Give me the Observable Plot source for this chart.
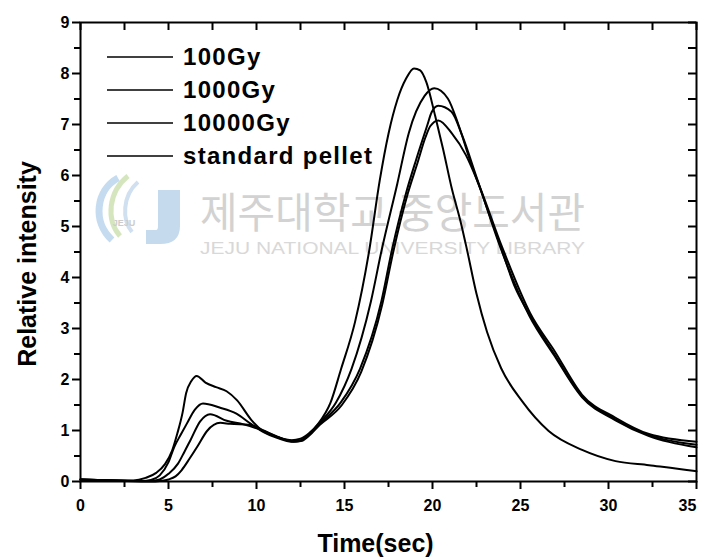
<!DOCTYPE html>
<html>
<head>
<meta charset="utf-8">
<script src="https://cdn.jsdelivr.net/npm/d3@7"></script>
<script src="https://cdn.jsdelivr.net/npm/@observablehq/plot@0.6"></script>
<style>
  body { margin: 0; background: #fff; }
  #wrap { position: relative; width: 702px; height: 558px; overflow: hidden; background: #fff; }
  #wrap > svg { position: absolute; left: 0; top: 0; }
</style>
</head>
<body>
<div id="wrap"></div>
<script>
// ---------- data ----------
const seriesNames = ["100Gy", "1000Gy", "10000Gy", "standard pellet"];

const t100 = [0, 2, 3.5, 4.0, 4.5, 5.0, 5.33, 5.7, 6.05, 6.5, 6.96, 7.9, 8.86, 9.64, 10.4, 11.2, 12.0, 12.5, 13.0, 13.5, 14.5, 15.4, 16.5, 17.1, 18.0, 18.65, 19.55, 20.1, 20.87, 21.48, 22.09, 22.7, 23.9, 24.7, 25.5, 26.9, 28.5, 30.4, 32.3, 35];
const v100 = [0.04, 0.02, 0.01, 0.03, 0.12, 0.38, 0.68, 0.92, 1.14, 1.41, 1.53, 1.45, 1.33, 1.14, 0.97, 0.85, 0.78, 0.8, 0.93, 1.12, 1.54, 2.21, 3.53, 4.52, 5.84, 6.83, 7.56, 7.71, 7.51, 6.99, 6.34, 5.75, 4.58, 3.8, 3.28, 2.51, 1.67, 1.22, 0.91, 0.72];

const t1000 = [0, 2, 4.0, 4.5, 5.0, 5.54, 5.9, 6.26, 6.8, 7.36, 8.31, 9.26, 10.4, 11.2, 12.0, 12.5, 13.0, 13.5, 14.79, 15.88, 17.1, 17.69, 18.55, 19.07, 19.69, 19.95, 20.32, 21.08, 21.68, 22.5, 23.9, 25.5, 26.9, 28.5, 30.4, 32.3, 35];
const v1000 = [0.04, 0.02, 0.01, 0.04, 0.15, 0.35, 0.58, 0.82, 1.18, 1.32, 1.19, 1.12, 0.99, 0.87, 0.8, 0.81, 0.92, 1.1, 1.55, 2.21, 3.54, 4.53, 5.72, 6.31, 6.97, 7.24, 7.37, 7.25, 6.79, 5.97, 4.55, 3.25, 2.48, 1.65, 1.2, 0.89, 0.67];

const t10000 = [0, 2, 4.0, 4.5, 5.0, 5.4, 5.74, 6.2, 6.65, 7.19, 7.94, 8.5, 9.64, 10.4, 11.2, 12.1, 12.6, 13.0, 13.5, 14.85, 15.95, 17.15, 17.75, 18.6, 19.15, 19.6, 19.88, 20.33, 21.11, 21.9, 22.6, 23.95, 25.55, 26.95, 28.5, 30.4, 32.3, 35];
const v10000 = [0.04, 0.02, 0.0, 0.01, 0.04, 0.1, 0.22, 0.45, 0.69, 0.99, 1.15, 1.13, 1.11, 1.0, 0.88, 0.78, 0.8, 0.9, 1.08, 1.5, 2.15, 3.48, 4.47, 5.65, 6.25, 6.75, 6.97, 7.08, 6.82, 6.4, 5.85, 4.6, 3.3, 2.55, 1.7, 1.25, 0.93, 0.78];

const tStd = [0, 1, 2, 3, 3.7, 4.3, 4.8, 5.2, 5.5, 5.8, 6.0, 6.3, 6.6, 7.1, 7.7, 8.3, 8.9, 9.7, 10.4, 11.2, 12.0, 12.5, 13.0, 13.5, 14.2, 14.8, 15.6, 16.4, 17.0, 17.5, 18.0, 18.5, 18.95, 19.3, 19.65, 20.15, 20.6, 21.1, 21.6, 21.95, 22.5, 23.1, 23.9, 25.1, 26.6, 28.5, 30.4, 32.3, 34.8, 35];
const vStd = [0.04, 0.03, 0.02, 0.02, 0.07, 0.17, 0.34, 0.6, 0.94, 1.35, 1.73, 1.97, 2.07, 1.94, 1.85, 1.77, 1.59, 1.21, 0.98, 0.87, 0.81, 0.84, 0.95, 1.13, 1.54, 2.2, 3.13, 4.52, 5.9, 6.82, 7.48, 7.9, 8.1, 8.06, 7.83, 7.17, 6.52, 5.74, 5.09, 4.56, 3.68, 2.93, 2.22, 1.57, 0.99, 0.62, 0.4, 0.32, 0.21, 0.2];

const xTickLabels = [0, 5, 10, 15, 20, 25, 30, 35];
const xMinorTicks = [2.5, 7.5, 12.5, 17.5, 22.5, 27.5, 32.5];
const yTickLabels = [0, 1, 2, 3, 4, 5, 6, 7, 8, 9];
const yMinorTicks = [0.5, 1.5, 2.5, 3.5, 4.5, 5.5, 6.5, 7.5, 8.5];
const xLabel = "Time(sec)";
const yLabel = "Relative intensity";
const watermarkKo = "제주대학교 중앙도서관";
const watermarkEn = "JEJU NATIONAL UNIVERSITY LIBRARY";
const logoText = "JEJU";

// ---------- build ----------
const W = 702, H = 558, mL = 80, mR = 6, mT = 22, mB = 77;
const innerW = W - mL - mR, innerH = H - mT - mB;
const FONT = "'Liberation Sans', Arial, Helvetica, sans-serif";

const seriesT = [t100, t1000, t10000, tStd];
const seriesV = [v100, v1000, v10000, vStd];
const rows = [];
seriesT.forEach((ts, i) => ts.forEach((t, j) => rows.push({series: seriesNames[i], t, v: seriesV[i][j]})));

const wrap = d3.select("#wrap");

// watermark (under the plot)
const wm = wrap.append("svg").attr("width", W).attr("height", H);
const logo = wm.append("g");
logo.append("path").attr("d", "M118,178 C96,190 92,222 112,240").attr("fill", "none").attr("stroke", "#c4dbf0").attr("stroke-width", 7);
logo.append("path").attr("d", "M128,176 C108,192 106,220 120,236").attr("fill", "none").attr("stroke", "#d5e6bf").attr("stroke-width", 5);
logo.append("path").attr("d", "M138,182 C122,196 122,220 132,232").attr("fill", "none").attr("stroke", "#d0e0f0").attr("stroke-width", 4);
logo.append("text").attr("x", 124).attr("y", 226).attr("text-anchor", "middle")
  .attr("font-family", FONT).attr("font-size", 9).attr("font-weight", "bold").attr("fill", "#cccccc").text(logoText);
logo.append("path").attr("d", "M158,190 H180 V226 Q180,244 160,244 H146 V230 H156 Q158,230 158,226 Z").attr("fill", "#c6daee");
wm.append("text").attr("x", 200).attr("y", 228)
  .attr("font-family", "'Noto Sans CJK KR', sans-serif").attr("font-size", 42)
  .attr("textLength", 385).attr("lengthAdjust", "spacingAndGlyphs")
  .attr("fill", "#d2d2d2").text(watermarkKo);
wm.append("text").attr("x", 200).attr("y", 254)
  .attr("font-family", FONT).attr("font-size", 16)
  .attr("textLength", 385).attr("lengthAdjust", "spacingAndGlyphs")
  .attr("fill", "#d8d8d8").text(watermarkEn);

const tickStyle = {stroke: "#000", strokeWidth: 2};
const chart = Plot.plot({
  width: W, height: H,
  marginLeft: mL, marginRight: mR, marginTop: mT, marginBottom: mB,
  style: {fontFamily: FONT, background: "transparent", color: "#000", overflow: "visible"},
  x: {domain: [0, 35]},
  y: {domain: [0, 9]},
  marks: [
    Plot.line(rows, {x: "t", y: "v", z: "series", stroke: "#000", strokeWidth: 2, curve: "monotone-x"}),
    Plot.frame({stroke: "#000", strokeWidth: 2}),
    // bottom axis: outward ticks, labels
    Plot.tickX(xTickLabels, {x: d => d, insetTop: innerH, insetBottom: -8, ...tickStyle}),
    Plot.tickX(xMinorTicks, {x: d => d, insetTop: innerH, insetBottom: -6, ...tickStyle}),
    Plot.axisX({ticks: xTickLabels.slice(0, -1), tickSize: 0, tickPadding: 18, fontSize: 16, fontWeight: "bold", label: null, tickFormat: d => d}),
    Plot.axisX({ticks: xTickLabels.slice(-1), tickSize: 0, tickPadding: 18, dx: -9, fontSize: 16, fontWeight: "bold", label: null, tickFormat: d => d}),
    // top axis: inward ticks
    Plot.tickX([...xTickLabels, ...xMinorTicks], {x: d => d, insetBottom: innerH - 8, ...tickStyle}),
    // left axis: outward ticks, labels
    Plot.tickY(yTickLabels, {y: d => d, insetRight: innerW, insetLeft: -8, ...tickStyle}),
    Plot.tickY(yMinorTicks, {y: d => d, insetRight: innerW, insetLeft: -6, ...tickStyle}),
    Plot.axisY({ticks: yTickLabels, tickSize: 0, tickPadding: 11, fontSize: 16, fontWeight: "bold", label: null, tickFormat: d => d}),
    // right axis: inward ticks
    Plot.tickY([...yTickLabels, ...yMinorTicks], {y: d => d, insetLeft: innerW - 8, ...tickStyle}),
    // axis titles
    Plot.text([yLabel], {text: d => d, frameAnchor: "left", textAnchor: "middle", lineAnchor: "middle", rotate: -90, dx: -53, dy: 12, fontSize: 25, fontWeight: "bold", fill: "#000"}),
    Plot.text([xLabel], {text: d => d, frameAnchor: "bottom", dy: 70, dx: -13, fontSize: 25, fontWeight: "bold", fill: "#000"})
  ]
});
wrap.node().appendChild(chart);

// legend (top-left inside the frame)
const leg = wrap.append("svg").attr("width", 320).attr("height", 150)
  .style("left", "100px").style("top", "38px");
const items = leg.selectAll("g").data(seriesNames).join("g")
  .attr("transform", (d, i) => `translate(0,${19 + i * 33})`);
items.append("line").attr("x1", 7).attr("x2", 73).attr("y1", 0).attr("y2", 0)
  .attr("stroke", "#000").attr("stroke-width", 1.4);
items.append("text").attr("x", 83).attr("y", 0).attr("dy", "0.35em")
  .attr("font-family", FONT).attr("font-size", 24).attr("font-weight", "bold")
  .attr("letter-spacing", 1.3).attr("fill", "#000").text(d => d);
</script>
</body>
</html>
